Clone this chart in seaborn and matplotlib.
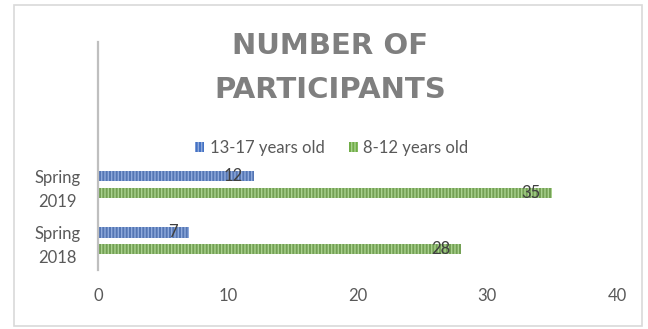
import matplotlib
matplotlib.use("Agg")
import matplotlib.pyplot as plt
import seaborn as sns
import pandas as pd
from matplotlib.patches import Rectangle

# Participation by season and age group
seasons = ["Spring 2019", "Spring 2018"]
season_labels = ["Spring\n2019", "Spring\n2018"]
teens = [12, 7]          # 13-17 years old
kids = [35, 28]          # 8-12 years old
groups = ["13-17 years old", "8-12 years old"]
colors = ["#4472C4", "#70AD47"]
stripe_colors = ["#8FAADC", "#A9D18E"]
x_ticks = [0, 10, 20, 30, 40]

df = pd.DataFrame({
    "season": seasons * 2,
    "group": [groups[0]] * len(seasons) + [groups[1]] * len(seasons),
    "count": teens + kids,
})

sns.set_theme(style="white")
plt.rcParams["font.family"] = ["Lato", "DejaVu Sans"]

fig = plt.figure(figsize=(6.48, 3.29), dpi=100)
ax = fig.add_axes([98 / 648, 1 - 270 / 329, 519 / 648, 228 / 329])
ax.patch.set_alpha(0)

sns.barplot(data=df, y="season", x="count", hue="group", order=seasons,
            hue_order=groups, palette=colors, orient="h", width=0.6, gap=0.4,
            ax=ax, legend=False)

# Striped pattern fill for the bars, value labels inside the bar ends
for cont, sc in zip(ax.containers, stripe_colors):
    for p in cont:
        p.set_hatch("|||||")
        p.set_edgecolor(sc)
        p.set_linewidth(0)
        v = p.get_width()
        yc = p.get_y() + p.get_height() / 2
        ax.annotate(f"{v:g}", xy=(v, yc), xytext=(-8, 0), textcoords="offset points",
                    ha="right", va="center", fontsize=12, color="#404040")

ax.set_xlim(0, 40)
ax.set_ylim(1.52, -2.55)
ax.set_xticks(x_ticks)
ax.set_xticklabels([str(t) for t in x_ticks], fontsize=12, color="#595959")
ax.set_yticks(range(len(seasons)))
ax.set_yticklabels(season_labels, fontsize=12, color="#595959", ha="center",
                   linespacing=1.55)
ax.tick_params(axis="y", pad=29, length=0)
ax.tick_params(axis="x", pad=13, length=0)
ax.set_xlabel("")
ax.set_ylabel("")
for s in ["top", "right", "bottom"]:
    ax.spines[s].set_visible(False)
ax.spines["left"].set_color("#BFBFBF")
ax.spines["left"].set_linewidth(1.6)

# Chart title
title_kw = dict(ha="center", va="center", fontsize=21, fontweight="bold",
                color="#7F7F7F", family="DejaVu Sans")
fig.text(330 / 648, 1 - 46 / 329, "NUMBER OF", **title_kw)
fig.text(330 / 648, 1 - 90 / 329, "PARTICIPANTS", **title_kw)

# Legend
handles = [Rectangle((0, 0), 1, 1, facecolor=c, edgecolor=sc, hatch="|||||", linewidth=0)
           for c, sc in zip(colors, stripe_colors)]
fig.legend(handles, groups, loc="center", bbox_to_anchor=(332 / 648, 1 - 148 / 329),
           ncol=2, frameon=False, fontsize=12, handlelength=0.5, handleheight=0.5,
           handletextpad=0.35, columnspacing=1.5, labelcolor="#595959")

# Chart area border
fig.patches.append(Rectangle((14 / 648, 1 - 326 / 329), 628 / 648, 321 / 329,
                             transform=fig.transFigure, fill=False,
                             edgecolor="#D9D9D9", linewidth=1.2))

fig.savefig("out.png", dpi=100)
